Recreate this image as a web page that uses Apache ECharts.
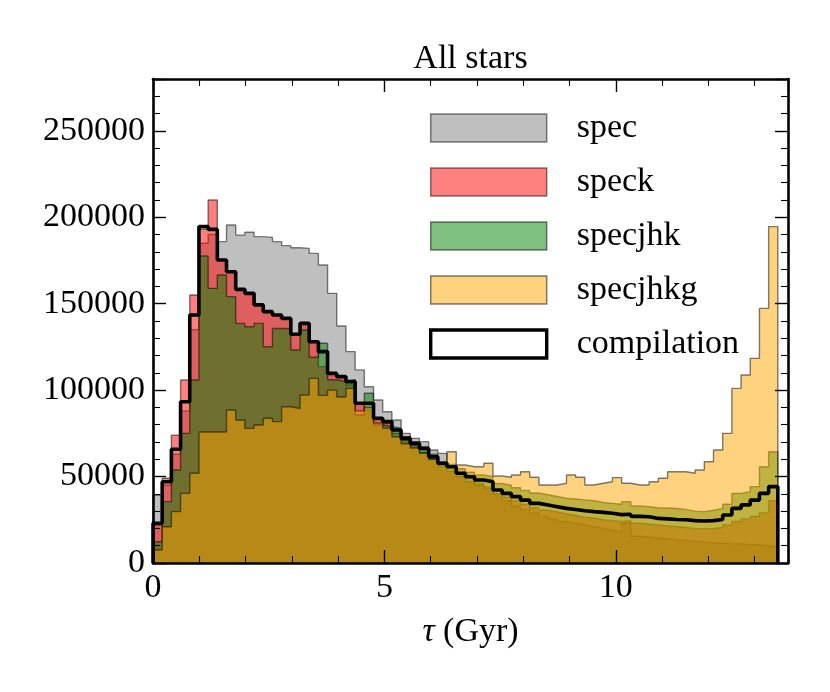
<!DOCTYPE html>
<html><head><meta charset="utf-8">
<script src="https://cdn.jsdelivr.net/npm/echarts@6/dist/echarts.min.js"></script>
<style>html,body{margin:0;padding:0;background:#fff}#c{width:830px;height:692px}</style>
</head><body><div id="c"></div>
<script>
// ---- data ----
const AGE_MIN = 0, AGE_MAX = 13.5;          // histogram range (Gyr), 68 bins
const X_MAX = 13.72, Y_MAX = 280000;
const xTickLabels = [0, 5, 10];
const yTickLabels = [0, 50000, 100000, 150000, 200000, 250000];
const seriesNames = ['spec', 'speck', 'specjhk', 'specjhkg', 'compilation'];

const spec = [39300,45000,63000,88000,135000,185000,190000,185900,195500,189700,
191300,188800,188400,185900,183600,182400,182000,179100,172400,156000,
137100,122300,111700,102000,94300,87500,82700,75000,72100,70200,
65400,63400,56000,52000,49000,46000,44000,40000,36000,33000,
31000,29000,27000,25500,24000,23000,22000,21000,20000,19000,
18000,23000,15500,15000,14500,14000,13500,13000,12500,12000,
11800,11500,11200,11000,10800,10500,10000,9500];

const speck = [22000,49000,74000,105900,155000,193000,210000,175300,168500,158300,
156000,149300,145400,143500,141500,132300,138600,128000,113600,110000,
108000,103000,92400,88500,83000,81000,75000,71000,68000,64000,
60000,56000,53000,50000,47000,45000,43000,40000,38000,36000,
34000,32000,30500,29500,28500,27500,26500,26000,25000,24500,
24000,24500,23000,22500,22000,21500,21000,20500,20000,19800,
20000,20500,22000,24000,25500,27000,29000,36000];

const specjhk = [12300,35500,53800,75000,105900,177600,158900,166600,154100,138600,
136700,138600,125100,135700,135700,123200,134800,119000,127100,106000,
105000,106000,85600,98200,80000,79000,78000,73000,70000,67000,
63000,58500,57000,54500,52500,51000,50000,46000,45000,43500,
42000,40500,39500,38500,37500,37000,36500,36000,35000,34500,
34000,35500,33000,32500,32000,31800,31500,31000,30000,29700,
30500,31500,34000,40300,41300,44200,55700,64400];

const specjhkg = [7500,21000,29700,40300,51900,75800,75800,75800,88500,82700,
77900,79800,83700,81800,90400,89400,97200,106800,97000,100000,
96000,101000,88000,90000,81000,78000,73000,69000,66500,63500,
60000,57000,64400,56700,55700,55700,57700,50300,49600,50900,
52800,49600,45100,45100,46100,50900,49600,45100,46100,47000,
49400,46100,45100,45100,47000,49000,52800,52800,51900,53800,
58600,65400,75000,101000,108800,118400,147300,194600];

const compilation = [23000,47000,65800,93300,143500,194600,193000,175300,168500,158300,
156000,149300,145400,143500,141500,132300,138600,128000,122300,109700,
107800,104900,92400,92400,83700,81800,76900,72100,69200,66300,
61500,57700,55700,51900,49900,48000,47000,42200,40300,38400,
36400,34500,33600,32600,31600,31000,30200,29700,29300,28800,
28000,28200,27000,26800,25800,25500,25200,25000,24500,24300,
24500,25200,27800,31600,33600,36400,40300,44200];

// ---- build step outlines from bin edges ----
function stepData(vals) {
  const w = (AGE_MAX - AGE_MIN) / vals.length;
  const pts = [[AGE_MIN, 0]];
  vals.forEach((v, i) => pts.push([AGE_MIN + i * w, v]));
  pts.push([AGE_MAX, vals[vals.length - 1]]);
  pts.push([AGE_MAX, 0]);
  return pts;
}

const FONT = '"Liberation Serif", "DejaVu Serif", serif';
const fills = ['rgba(128,128,128,0.5)', 'rgba(255,0,0,0.5)', 'rgba(0,128,0,0.5)', 'rgba(255,165,0,0.5)'];
const EDGE = 'rgba(0,0,0,0.5)';
const filledData = [spec, speck, specjhk, specjhkg];

const axisCommon = {
  z: 10,
  axisLine: { show: true, onZero: false, lineStyle: { color: '#000', width: 2.6 } },
  axisTick: { show: true, inside: true, length: 13, lineStyle: { color: '#000', width: 1.4 } },
  minorTick: { show: true, splitNumber: 5, length: 7, lineStyle: { color: '#000', width: 1.1 } },
  splitLine: { show: false },
  minorSplitLine: { show: false }
};

const series = filledData.map((vals, i) => ({
  name: seriesNames[i],
  type: 'line',
  step: 'end',
  symbol: 'none',
  data: stepData(vals),
  lineStyle: { color: EDGE, width: 1.4 },
  itemStyle: { color: fills[i] },
  areaStyle: { color: fills[i], opacity: 1 },
  z: 2 + i,
  silent: true
}));
series.push({
  name: seriesNames[4],
  type: 'line',
  step: 'end',
  symbol: 'none',
  data: stepData(compilation),
  lineStyle: { color: '#000', width: 3.6 },
  itemStyle: { color: '#000' },
  z: 8,
  silent: true
});

const legendData = seriesNames.map((n, i) => ({
  name: n,
  icon: 'rect',
  itemStyle: i < 4
    ? { color: fills[i], borderColor: EDGE, borderWidth: 1.5 }
    : { color: '#ffffff', borderColor: '#000', borderWidth: 3.4 }
}));

const chart = echarts.init(document.getElementById('c'), null, { renderer: 'canvas' });
chart.setOption({
  animation: false,
  backgroundColor: '#fff',
  grid: { left: 153, right: 42, top: 79, bottom: 129, containLabel: false },
  legend: {
    orient: 'vertical', left: 429, top: 111, padding: 0,
    itemWidth: 116, itemHeight: 28, itemGap: 20,
    selectedMode: false,
    textStyle: { fontFamily: FONT, fontSize: 34, color: '#000', lineHeight: 28, padding: [0, 0, 0, 25] },
    data: legendData
  },
  xAxis: [
    Object.assign({}, axisCommon, {
      type: 'value', min: 0, max: X_MAX, interval: 5, position: 'bottom',
      axisLabel: { fontFamily: FONT, fontSize: 34, color: '#000', margin: 8,
        formatter: v => xTickLabels.includes(v) ? String(v) : '' },
      name: '{t|τ} (Gyr)', nameLocation: 'middle', nameGap: 52,
      nameTextStyle: { fontFamily: FONT, fontSize: 34, color: '#000',
        rich: { t: { fontFamily: FONT, fontSize: 34, fontStyle: 'italic', color: '#000' } } }
    }),
    Object.assign({}, axisCommon, {
      type: 'value', min: 0, max: X_MAX, interval: 5, position: 'top',
      axisLabel: { show: false },
      name: 'All stars', nameLocation: 'middle', nameGap: 3,
      nameTextStyle: { fontFamily: FONT, fontSize: 34, color: '#000' }
    })
  ],
  yAxis: [
    Object.assign({}, axisCommon, {
      type: 'value', min: 0, max: Y_MAX, interval: 50000, position: 'left',
      axisLabel: { fontFamily: FONT, fontSize: 34, color: '#000', margin: 8,
        formatter: v => yTickLabels.includes(v) ? String(v) : '' }
    }),
    Object.assign({}, axisCommon, {
      type: 'value', min: 0, max: Y_MAX, interval: 50000, position: 'right',
      axisLabel: { show: false }
    })
  ],
  series: series
});
</script>
</body></html>
